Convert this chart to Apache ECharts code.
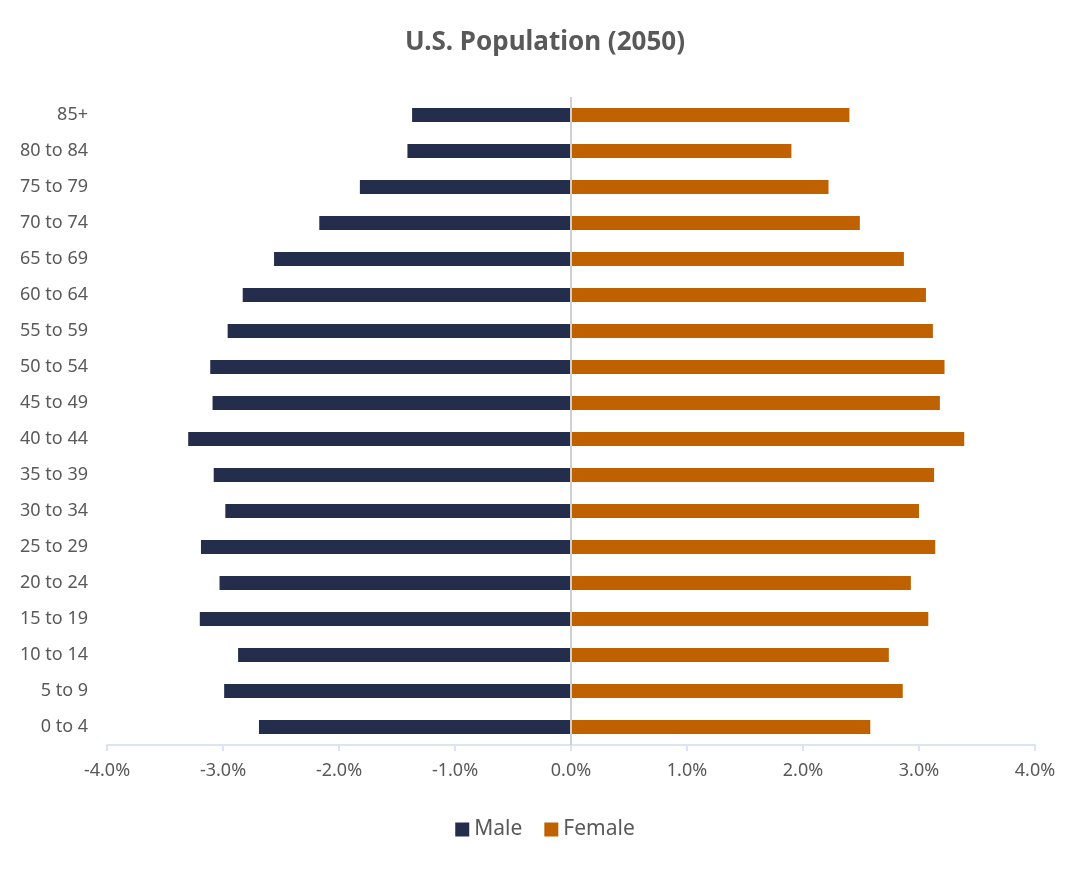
<!DOCTYPE html>
<html>
<head>
<meta charset="utf-8">
<script src="https://cdn.jsdelivr.net/npm/echarts@6/dist/echarts.min.js"></script>
<style>
  html, body { margin: 0; padding: 0; background: #fff; }
  #main { width: 1090px; height: 872px; }
</style>
</head>
<body>
<div id="main"></div>
<script>
// age groups, bottom to top
var ageGroups = ["0 to 4","5 to 9","10 to 14","15 to 19","20 to 24","25 to 29","30 to 34","35 to 39",
                 "40 to 44","45 to 49","50 to 54","55 to 59","60 to 64","65 to 69","70 to 74","75 to 79","80 to 84","85+"];
// share of population, percent (male shown negative)
var male = [-2.69,-2.99,-2.87,-3.20,-3.03,-3.19,-2.98,-3.08,-3.30,-3.09,-3.11,-2.96,-2.83,-2.56,-2.17,-1.82,-1.41,-1.37];
var female = [2.58,2.86,2.74,3.08,2.93,3.14,3.00,3.13,3.39,3.18,3.22,3.12,3.06,2.87,2.49,2.22,1.90,2.40];
var xTicks = [-4,-3,-2,-1,0,1,2,3,4];

var chart = echarts.init(document.getElementById("main"));
var grey = "#595959";
var option = {
    backgroundColor: "#ffffff",
    animation: false,
    title: {
        text: "U.S. Population (2050)",
        left: "center",
        top: 25,
        textStyle: {
            fontFamily: "Noto Sans, sans-serif",
            fontSize: 26,
            fontWeight: "bold",
            color: grey
        }
    },
    legend: {
        bottom: 27,
        left: "center",
        itemWidth: 14,
        itemHeight: 14,
        itemGap: 22,
        icon: "rect",
        textStyle: { fontSize: 21, color: grey, fontFamily: "Noto Sans, sans-serif" },
        data: ["Male","Female"]
    },
    grid: { left: 107, right: 55, top: 97, bottom: 127 },
    xAxis: {
        type: "value",
        min: xTicks[0],
        max: xTicks[xTicks.length - 1],
        interval: 1,
        splitLine: { show: false },
        axisLine: { show: true, lineStyle: { color: "#DCE3F2", width: 2 } },
        axisTick: { show: true, length: 6, lineStyle: { color: "#DCE3F2", width: 2 } },
        axisLabel: {
            margin: 17,
            fontSize: 18,
            color: grey,
            fontFamily: "Noto Sans, sans-serif",
            formatter: function (v) { return v.toFixed(1) + "%"; }
        }
    },
    yAxis: {
        type: "category",
        data: ageGroups,
        axisLine: { show: false },
        axisTick: { show: false },
        axisLabel: { margin: 19, fontSize: 18, color: grey, fontFamily: "Noto Sans, sans-serif" }
    },
    series: [
        {
            name: "Male",
            type: "bar",
            data: male,
            barWidth: 14,
            barGap: "-100%",
            itemStyle: { color: "#242D4B" },
            markLine: {
                silent: true,
                symbol: "none",
                label: { show: false },
                lineStyle: { color: "#D0D0D0", width: 2, type: "solid" },
                data: [{ xAxis: 0 }]
            }
        },
        {
            name: "Female",
            type: "bar",
            data: female,
            barWidth: 14,
            itemStyle: { color: "#C06100" }
        }
    ]
};
chart.setOption(option);
</script>
</body>
</html>
